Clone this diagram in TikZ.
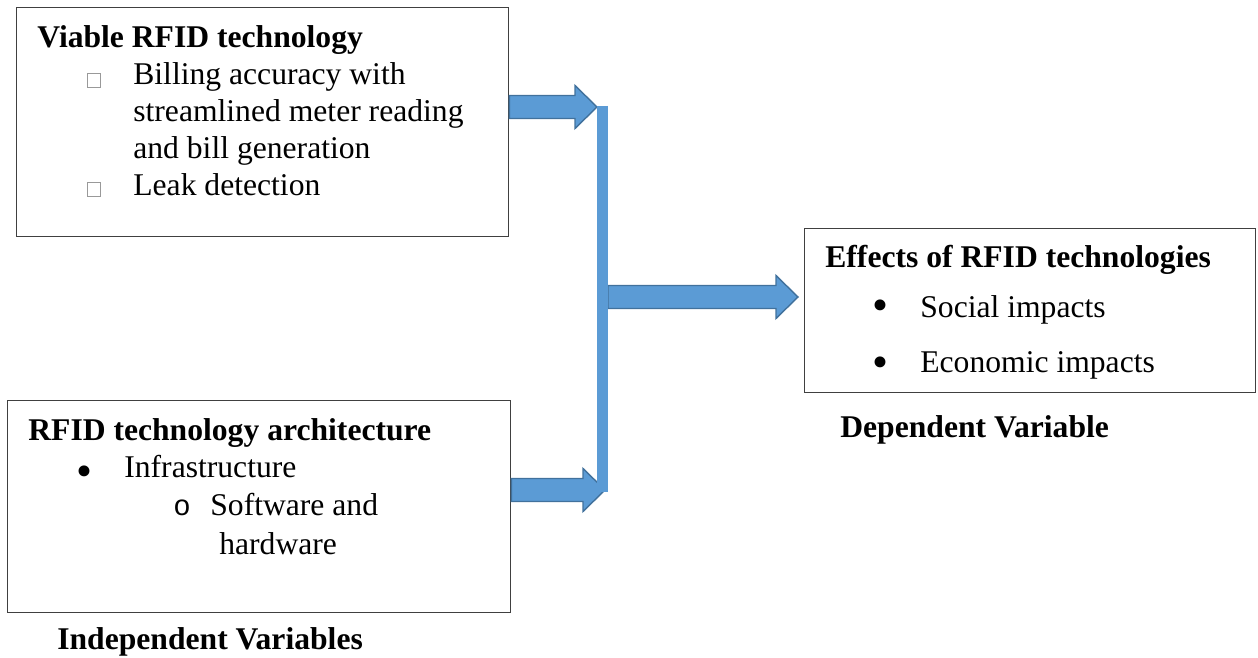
\documentclass[tikz,border=0pt]{standalone}
\usepackage{fontspec}
\setmainfont{Liberation Serif}
\newfontfamily\monofont{Liberation Mono}
\usetikzlibrary{calc,positioning}
\definecolor{tombkek}{HTML}{5B9BD5}
\definecolor{tombszel}{HTML}{41719C}
\newcommand{\schacht}{0.23cm}
\newcommand{\kophossz}{0.44cm}
\newcommand{\kopszel}{0.43cm}
\newcommand{\blokknyil}[2]{%
  \filldraw[tomb] let \p1=(#1), \p2=(#2) in
    (\x1,\y1+\schacht) -- (\x2-\kophossz,\y1+\schacht) -- (\x2-\kophossz,\y1+\kopszel)
    -- (\x2,\y1) -- (\x2-\kophossz,\y1-\kopszel) -- (\x2-\kophossz,\y1-\schacht)
    -- (\x1,\y1-\schacht) -- cycle;}
\tikzset{
  keret/.style={draw=black!75,line width=0.8pt,inner sep=0pt,anchor=north west},
  sor/.style={anchor=base west,inner sep=0pt,font=\fontsize{18}{21}\selectfont},
  cim/.style={sor,font=\fontsize{18}{21}\selectfont\bfseries},
  jel/.style={anchor=base west,inner sep=0pt,font=\fontsize{26}{26}\selectfont},
  karika/.style={anchor=base west,inner sep=0pt,font=\fontsize{16.5}{18}\selectfont\monofont},
  negyzet/.style={draw=black!40,line width=0.5pt,inner sep=0pt,minimum width=0.26cm,minimum height=0.28cm},
  tomb/.style={fill=tombkek,draw=tombszel,line width=0.8pt,line join=miter},
  rud/.style={draw=tombkek,line width=0.22cm},
}
\begin{document}
\begin{tikzpicture}[x=0.02cm,y=-0.02cm]
  \useasboundingbox (0,0) rectangle (1258,658);
  \node[keret,minimum width=9.84cm,minimum height=4.58cm] (viable) at (16,7) {};
  \node[keret,minimum width=10.06cm,minimum height=4.24cm] (arch) at (7,400) {};
  \node[keret,minimum width=9.02cm,minimum height=3.28cm] (effects) at (804,228) {};
  \node[cim] (v0) at (37,48) {Viable RFID technology};
  \node[negyzet] (sq1) at (94,80.5) {};
  \node[sor] (v1) at (133,85) {Billing accuracy with};
  \node[sor] (v2) at (133,122) {streamlined meter reading};
  \node[sor] (v3) at (133,159) {and bill generation};
  \node[negyzet] (sq2) at (94,189.5) {};
  \node[sor] (v4) at (133,196) {Leak detection};
  \node[cim] (a0) at (28,440) {RFID technology architecture};
  \node[jel] (b1) at (76,486) {•};
  \node[sor] (a1) at (124,478) {Infrastructure};
  \node[karika] (o1) at (173,516) {o};
  \node[sor] (a2) at (210,516) {Software and};
  \node[sor] (a3) at (219,554) {hardware};
  \node[cim] (indep) at (57,649) {Independent Variables};
  \node[cim] (e0) at (825,268) {Effects of RFID technologies};
  \node[jel] (b2) at (872,321) {•};
  \node[sor] (e1) at (920,318) {Social impacts};
  \node[jel] (b3) at (872,378) {•};
  \node[sor] (e2) at (920,373) {Economic impacts};
  \node[cim] (dep) at (840,438) {Dependent Variable};
  \coordinate (rudfel) at (602.5,106);
  \coordinate (rudle) at (602.5,492);
  \coordinate (csucs1) at (597,107);
  \coordinate (csucs2) at (605,490);
  \coordinate (ki) at (608,297);
  \coordinate (csucs3) at ($(effects.west |- ki)+(-6,0)$);
  \blokknyil{viable.east |- csucs1}{csucs1}
  \blokknyil{arch.east |- csucs2}{csucs2}
  \blokknyil{ki}{csucs3}
  \draw[rud] (rudfel) -- (rudle);
\end{tikzpicture}
\end{document}
